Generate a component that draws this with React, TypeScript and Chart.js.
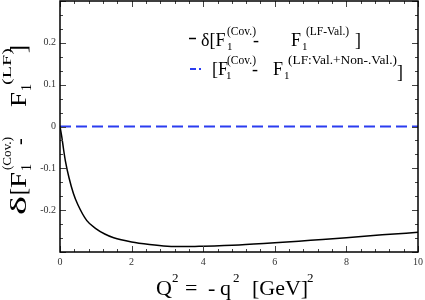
import React, { useEffect, useRef } from "react";
import { Chart, registerables } from "chart.js";

Chart.register(...registerables);

// Q^2 values [GeV^2] and delta F1 values
const q2Values = [0, 0.05, 0.1, 0.15, 0.25, 0.375, 0.5, 0.75, 1.0, 1.25, 1.5, 2.0, 2.5, 3.0, 3.5, 4.0, 5.0, 6.0, 7.0, 8.0, 9.0, 10.0];
const deltaValVals = [0, -0.025, -0.055, -0.082, -0.122, -0.16, -0.187, -0.225, -0.244, -0.257, -0.266, -0.276, -0.282, -0.286, -0.287, -0.286, -0.283, -0.278, -0.272, -0.266, -0.259, -0.253];
const q2Flat = [0, 10];
const deltaFullVals = [0, 0];

const xTicks = [0, 2, 4, 6, 8, 10];
const yTicks = [-0.2, -0.1, 0, 0.1, 0.2];

const SERIF = '"Liberation Serif", "Times New Roman", serif';

type Piece = { t: string; x: number; y: number; s: number; w?: number };

function drawPieces(ctx: CanvasRenderingContext2D, pieces: Piece[]) {
  for (const p of pieces) {
    ctx.font = `${p.s}px ${SERIF}`;
    const m = ctx.measureText(p.t).width;
    const sx = p.w ? p.w / m : 1;
    ctx.save();
    ctx.translate(p.x, p.y);
    ctx.scale(sx, 1);
    ctx.fillText(p.t, 0, 0);
    ctx.restore();
  }
}

const decorPlugin = {
  id: "decor",
  afterDraw(chart: any) {
    const ctx: CanvasRenderingContext2D = chart.ctx;
    const { left, right, top, bottom } = chart.chartArea;
    const xs = chart.scales.x;
    const ys = chart.scales.y;
    ctx.save();
    // ticks
    ctx.strokeStyle = "#444";
    ctx.lineWidth = 1;
    ctx.beginPath();
    for (let i = 0; i <= 25; i++) {
      const v = i * 0.4;
      const px = Math.round(xs.getPixelForValue(v)) + 0.5;
      const major = Math.abs(v / 2 - Math.round(v / 2)) < 1e-6;
      const len = major ? 6 : 3;
      ctx.moveTo(px, bottom);
      ctx.lineTo(px, bottom - len);
      ctx.moveTo(px, top);
      ctx.lineTo(px, top + len);
    }
    for (let i = 0; i <= 18; i++) {
      const v = -0.3 + i * (0.1 / 3);
      const py = Math.round(ys.getPixelForValue(v)) + 0.5;
      const major = i % 3 === 0;
      const len = major ? 6 : 3;
      ctx.moveTo(left, py);
      ctx.lineTo(left + len, py);
      ctx.moveTo(right, py);
      ctx.lineTo(right - len, py);
    }
    ctx.stroke();
    // frame
    ctx.strokeStyle = "#000";
    ctx.lineWidth = 1.5;
    ctx.strokeRect(left, top, right - left, bottom - top);

    ctx.fillStyle = "#000";
    ctx.textBaseline = "alphabetic";
    ctx.textAlign = "left";

    // x title
    drawPieces(ctx, [
      { t: "Q", x: 156, y: 295, s: 22 },
      { t: "2", x: 172, y: 282, s: 13 },
      { t: "=", x: 185, y: 295, s: 22 },
      { t: "-", x: 208, y: 295, s: 22 },
      { t: "q", x: 220, y: 295, s: 22 },
      { t: "2", x: 233, y: 282, s: 13 },
      { t: "[GeV]", x: 252, y: 295, s: 22 },
      { t: "2", x: 307, y: 282, s: 13 },
    ]);

    // y title (rotated)
    ctx.save();
    ctx.translate(26, 215);
    ctx.rotate(-Math.PI / 2);
    drawPieces(ctx, [
      { t: "δ", x: 0, y: 0, s: 23, w: 19 },
      { t: "[", x: 20, y: 0, s: 23, w: 7 },
      { t: "F", x: 27, y: 0, s: 23, w: 16 },
      { t: "1", x: 44, y: 5, s: 14 },
      { t: "(Cov.)", x: 45, y: -15, s: 13, w: 33 },
      { t: "-", x: 70, y: 0, s: 20 },
      { t: "F", x: 108, y: 0, s: 23, w: 15 },
      { t: "1", x: 124, y: 5, s: 14 },
      { t: "(LF)", x: 130, y: -15, s: 13, w: 37 },
      { t: "]", x: 162, y: 0, s: 24 },
    ]);
    ctx.restore();

    // legend samples
    ctx.strokeStyle = "#000";
    ctx.lineWidth = 1.5;
    ctx.beginPath();
    ctx.moveTo(189, 38.5);
    ctx.lineTo(196, 38.5);
    ctx.stroke();
    ctx.strokeStyle = "#2b3cf0";
    ctx.lineWidth = 2;
    ctx.beginPath();
    ctx.moveTo(190, 69);
    ctx.lineTo(196, 69);
    ctx.moveTo(199, 69);
    ctx.lineTo(201, 69);
    ctx.stroke();

    // legend texts
    drawPieces(ctx, [
      { t: "δ[F", x: 201, y: 46, s: 18 },
      { t: "1", x: 227, y: 50, s: 11 },
      { t: "(Cov.)", x: 227, y: 35, s: 11.5 },
      { t: "-", x: 253, y: 46, s: 18 },
      { t: "F", x: 291, y: 46, s: 18 },
      { t: "1", x: 302, y: 50, s: 11 },
      { t: "(LF-Val.)", x: 306, y: 35, s: 11.5 },
      { t: "]", x: 355, y: 46, s: 18 },
      { t: "[F", x: 212, y: 75, s: 18 },
      { t: "1", x: 226, y: 79, s: 11 },
      { t: "(Cov.)", x: 227, y: 64, s: 11.5 },
      { t: "-", x: 252, y: 75, s: 18 },
      { t: "F", x: 273, y: 75, s: 18 },
      { t: "1", x: 284, y: 79, s: 11 },
      { t: "(LF:Val.+Non-.Val.)", x: 288, y: 64, s: 11.5, w: 109 },
      { t: "]", x: 397, y: 78, s: 18 },
    ]);
    ctx.restore();
  },
};

export default function App() {
  const ref = useRef<HTMLCanvasElement | null>(null);
  useEffect(() => {
    if (!ref.current) return;
    const chart = new Chart(ref.current, {
      type: "line",
      data: {
        datasets: [
          {
            label: "val",
            data: q2Values.map((x, i) => ({ x, y: deltaValVals[i] })),
            borderColor: "#000",
            borderWidth: 1.5,
            pointRadius: 0,
            cubicInterpolationMode: "monotone",
            fill: false,
          },
          {
            label: "full",
            data: q2Flat.map((x, i) => ({ x, y: deltaFullVals[i] })),
            borderColor: "#2b3cf0",
            borderWidth: 2,
            borderDash: [11, 5],
            pointRadius: 0,
            fill: false,
          },
        ],
      },
      options: {
        animation: false,
        responsive: true,
        maintainAspectRatio: false,
        layout: { padding: { top: 1, right: 7, left: 0, bottom: 0 } },
        plugins: { legend: { display: false }, tooltip: { enabled: false } },
        scales: {
          x: {
            type: "linear",
            min: 0,
            max: 10,
            grid: { display: false, drawTicks: false, tickLength: 0 },
            border: { display: false },
            afterBuildTicks: (s: any) => {
              s.ticks = xTicks.map((v) => ({ value: v }));
            },
            afterFit: (s: any) => {
              s.height = 48;
              s.paddingLeft = 0;
              s.paddingRight = 0;
              s.paddingTop = 0;
              s.paddingBottom = 0;
            },
            ticks: {
              padding: 4,
              color: "#333",
              font: { family: SERIF, size: 10 },
              callback: (v: any) => String(v),
            },
          },
          y: {
            type: "linear",
            min: -0.3,
            max: 0.3,
            grid: { display: false, drawTicks: false, tickLength: 0 },
            border: { display: false },
            afterBuildTicks: (s: any) => {
              s.ticks = yTicks.map((v) => ({ value: v }));
            },
            afterFit: (s: any) => {
              s.width = 60;
              s.paddingLeft = 0;
              s.paddingRight = 0;
              s.paddingTop = 0;
              s.paddingBottom = 0;
            },
            ticks: {
              padding: 4,
              color: "#333",
              font: { family: SERIF, size: 10 },
              callback: (v: any) => (Math.abs(v) < 1e-9 ? "0" : Number(v).toFixed(1)),
            },
          },
        },
      },
      plugins: [decorPlugin],
    });
    return () => chart.destroy();
  }, []);
  return (
    <div style={{ position: "fixed", left: 0, top: 0, width: 425, height: 300 }}>
      <canvas ref={ref} />
    </div>
  );
}
